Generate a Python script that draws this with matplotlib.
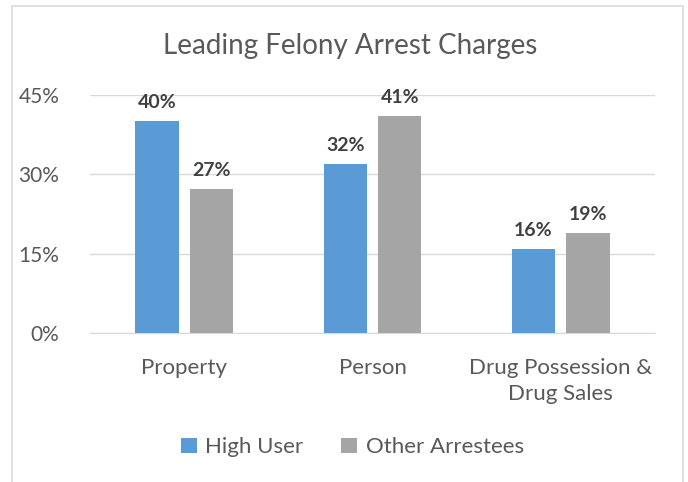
import matplotlib
matplotlib.use("Agg")
import numpy as np
import matplotlib.pyplot as plt
import matplotlib.patches as mpatches
from matplotlib.ticker import FuncFormatter

# ---------------------------------------------------------------------------
# Data
# ---------------------------------------------------------------------------
categories = ["Property", "Person", "Drug Possession &\nDrug Sales"]
high_user = [40.0, 32.0, 15.8]
other_arrestees = [27.3, 41.0, 18.9]
high_labels = ["40%", "32%", "16%"]
other_labels = ["27%", "41%", "19%"]
yticks = [0, 15, 30, 45]

BLUE = "#5B9BD5"
GRAY = "#A5A5A5"
TEXT = "#595959"

plt.rcParams.update({
    "font.family": ["Lato", "DejaVu Sans"],
    "text.color": TEXT,
})

fig = plt.figure(figsize=(6.88, 4.82), dpi=100)
ax = fig.add_axes([90 / 688, 1 - 333 / 482, 565 / 688, 238 / 482])

# outer chart border (open at the bottom like the cropped screenshot)
fig.add_artist(mpatches.Rectangle(
    (12 / 688, -0.1), 671 / 688, 1.1 - 6 / 482,
    transform=fig.transFigure, fill=False, ec="#D9D9D9", lw=1.2))

x = np.arange(len(categories))
w = 0.23
off = 0.145
b1 = ax.bar(x - off, high_user, w, color=BLUE, label="High User", zorder=3)
b2 = ax.bar(x + off, other_arrestees, w, color=GRAY, label="Other Arrestees", zorder=3)

for bars, labs in [(b1, high_labels), (b2, other_labels)]:
    for b, t in zip(bars, labs):
        ax.text(b.get_x() + b.get_width() / 2, b.get_height() + 1.9, t,
                ha="center", va="bottom", fontsize=14, fontweight="bold",
                color="#404040")

ax.set_xlim(-0.5, 2.5)
ax.set_ylim(0, 45)
ax.set_yticks(yticks)
ax.yaxis.set_major_formatter(FuncFormatter(lambda v, p: f"{v:.0f}%"))
ax.yaxis.grid(True, color="#D9D9D9", lw=1.0, zorder=0)
ax.set_xticks(x)
ax.set_xticklabels(categories, fontsize=16, color=TEXT, linespacing=1.35)
ax.tick_params(axis="y", labelsize=15, labelcolor=TEXT, length=0, pad=22)
ax.tick_params(axis="x", length=0, pad=18)
for s in ["top", "right", "left"]:
    ax.spines[s].set_visible(False)
ax.spines["bottom"].set_color("#D9D9D9")

fig.text(350 / 688, 1 - 46 / 482, "Leading Felony Arrest Charges",
         ha="center", va="center", fontsize=20, color=TEXT)

ax.legend(loc="center", bbox_to_anchor=(0.5 - 20 / 565, -0.48), ncol=2,
          frameon=False, fontsize=16, handlelength=0.7, handleheight=0.7,
          handletextpad=0.4, columnspacing=1.7, labelcolor=TEXT)

fig.savefig("out.png", dpi=100, facecolor="white")
